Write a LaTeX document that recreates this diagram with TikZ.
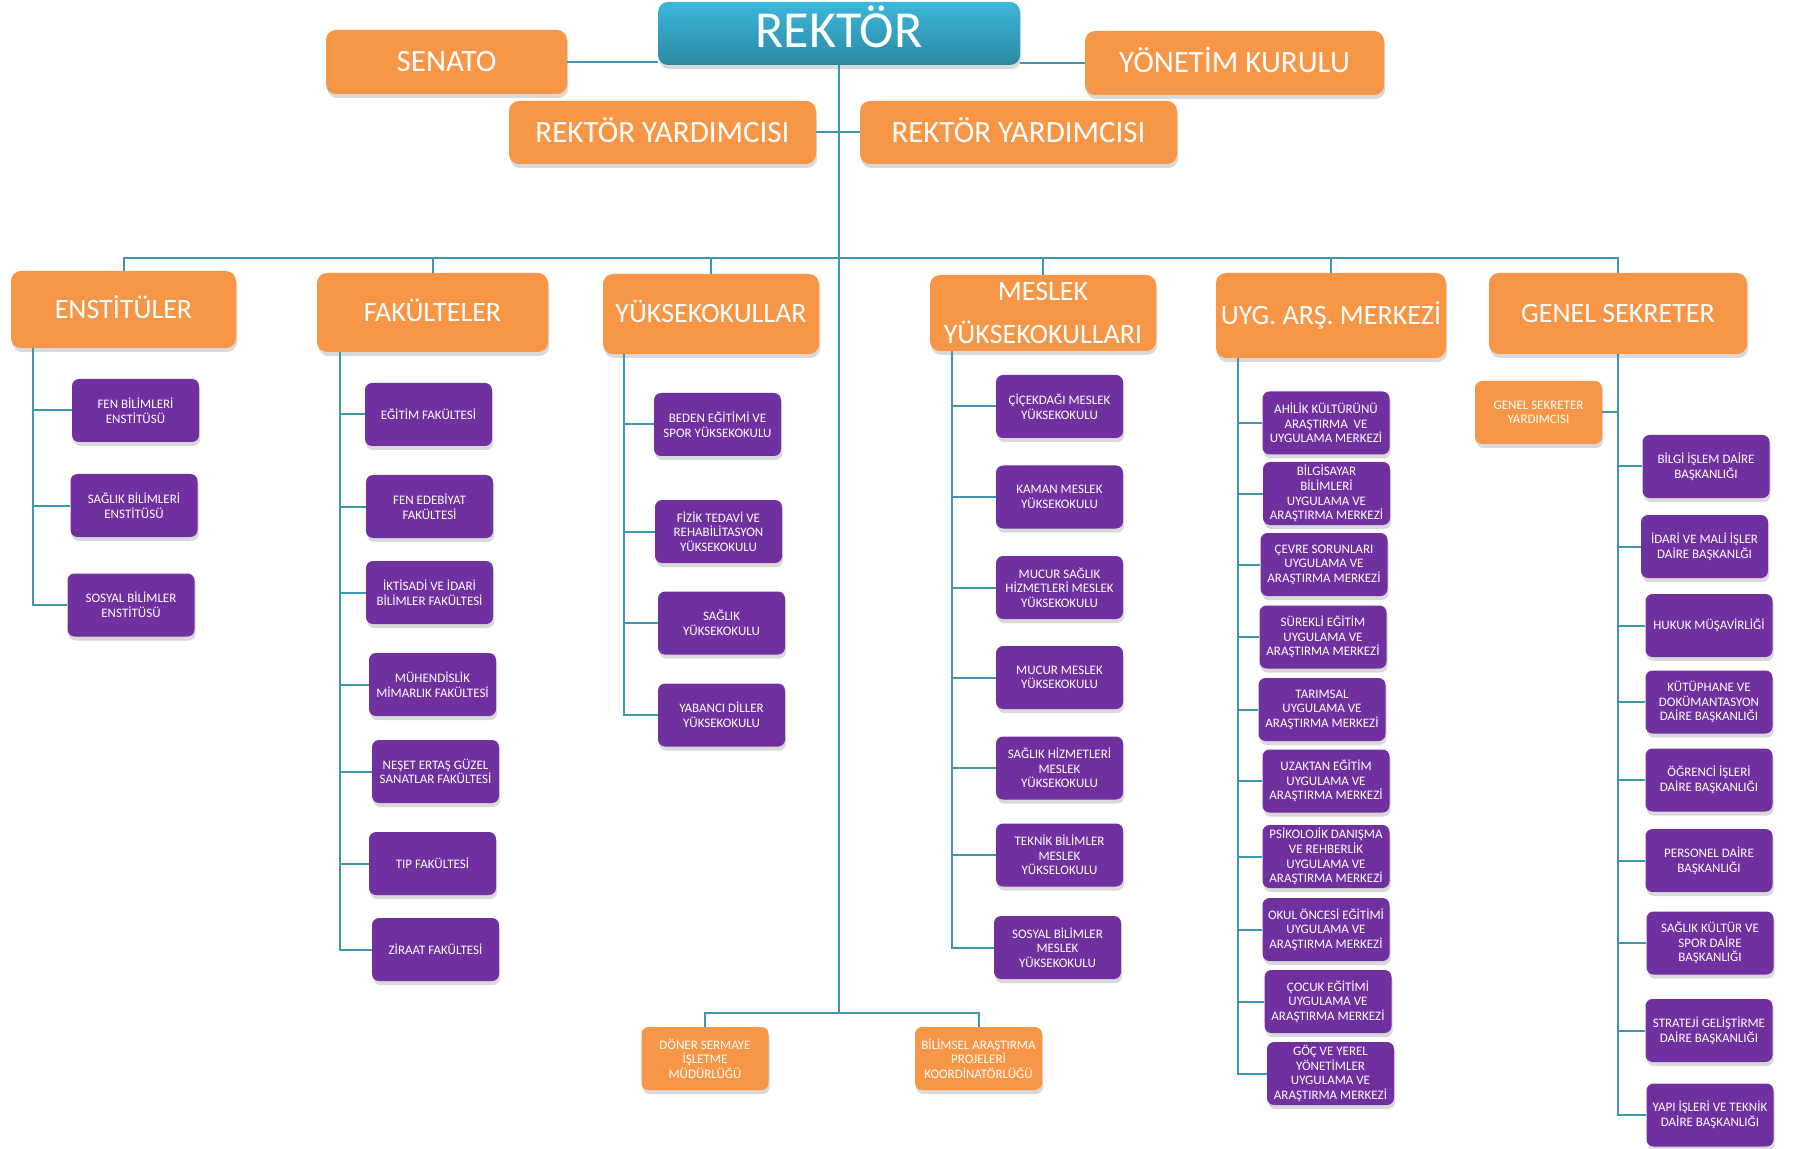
\documentclass[tikz,border=0pt]{standalone}
\usepackage{fontspec}
\setmainfont{Carlito}
\usepackage{tikz}
\usetikzlibrary{shadows}
\definecolor{apricot}{HTML}{F79646}
\definecolor{grape}{HTML}{7030A0}
\definecolor{seablue}{HTML}{3E97AE}
\definecolor{aquatop}{HTML}{3DB7DC}
\definecolor{aquabot}{HTML}{2B88A1}

\begin{document}
\begin{tikzpicture}[x=0.5pt, y=-0.5pt,
      box/.style={rectangle, rounded corners=5pt, align=center, text=white, inner sep=1pt,
        drop shadow={shadow xshift=0.6pt, shadow yshift=-2pt, opacity=0.3}},
      board/.style={box, fill=apricot, font=\fontsize{15.5}{18}\selectfont, text height=10pt, text depth=0pt},
      head/.style={box, fill=apricot, font=\fontsize{14}{21.5}\selectfont},
      oneline/.style={text height=9pt, text depth=0pt},
      unit/.style={box, fill=grape, rounded corners=3.5pt, minimum width=63.5pt, minimum height=31.5pt,
        font=\fontsize{6.5}{7.3}\selectfont},
      office/.style={unit, fill=apricot},
      link/.style={draw=seablue, line width=1pt}
      ]
      \useasboundingbox (0,0) rectangle (1797,1149);
      % top level
      \node[box, top color=aquatop, bottom color=aquabot, minimum width=181pt, minimum height=31.5pt,
        font=\fontsize{26}{30}\selectfont, text height=14.5pt, text depth=0pt] (REK) at (839,33.5) {REKTÖR};
      \node[board, minimum width=120.5pt, minimum height=32pt] (SEN) at (446.5,62) {SENATO};
      \node[board, minimum width=149.5pt, minimum height=32pt] (YK) at (1234.5,63) {YÖNETİM KURULU};
      \node[board, minimum width=153.5pt, minimum height=31.5pt] (RY1) at (662.5,132.5) {REKTÖR YARDIMCISI};
      \node[board, minimum width=158.5pt, minimum height=31.5pt] (RY2) at (1018.5,132.5) {REKTÖR YARDIMCISI};
      % units
      \node[head, oneline, minimum width=112.5pt, minimum height=38.5pt] (ENS) at (123.5,309.5) {ENSTİTÜLER};
      \node[head, oneline, minimum width=115.5pt, minimum height=39.5pt] (FAK) at (432.5,312.5) {FAKÜLTELER};
      \node[head, oneline, minimum width=108pt, minimum height=40pt] (YO) at (711,314) {YÜKSEKOKULLAR};
      \node[head, minimum width=113pt, minimum height=38pt] (MYO) at (1043,313) {MESLEK\\YÜKSEKOKULLARI};
      \node[head, oneline, minimum width=115pt, minimum height=42.5pt] (UAM) at (1331,315.5) {UYG. ARŞ. MERKEZİ};
      \node[head, oneline, minimum width=129pt, minimum height=40.5pt] (GS) at (1618,313.5) {GENEL SEKRETER};
      % enstituler
      \node[unit] (ENS1) at (135.5,410.5) {FEN BİLİMLERİ\\ENSTİTÜSÜ};
      \node[unit] (ENS2) at (134,505.5) {SAĞLIK BİLİMLERİ\\ENSTİTÜSÜ};
      \node[unit] (ENS3) at (131,605) {SOSYAL BİLİMLER\\ENSTİTÜSÜ};
      % fakulteler
      \node[unit] (FAK1) at (428.5,414.5) {EĞİTİM FAKÜLTESİ};
      \node[unit] (FAK2) at (429.5,506.5) {FEN EDEBİYAT\\FAKÜLTESİ};
      \node[unit] (FAK3) at (429.5,592.5) {İKTİSADİ VE İDARİ\\BİLİMLER FAKÜLTESİ};
      \node[unit] (FAK4) at (432.5,684.5) {MÜHENDİSLİK\\MİMARLIK FAKÜLTESİ};
      \node[unit] (FAK5) at (435.5,771.5) {NEŞET ERTAŞ GÜZEL\\SANATLAR FAKÜLTESİ};
      \node[unit] (FAK6) at (432.5,863.5) {TIP FAKÜLTESİ};
      \node[unit] (FAK7) at (435.5,949.5) {ZİRAAT FAKÜLTESİ};
      % yuksekokullar
      \node[unit] (YO1) at (717.5,424.5) {BEDEN EĞİTİMİ VE\\SPOR YÜKSEKOKULU};
      \node[unit] (YO2) at (718.5,531.5) {FİZİK TEDAVİ VE\\REHABİLİTASYON\\YÜKSEKOKULU};
      \node[unit] (YO3) at (721.5,623) {SAĞLIK\\YÜKSEKOKULU};
      \node[unit] (YO4) at (721.5,715) {YABANCI DİLLER\\YÜKSEKOKULU};
      % meslek yuksekokullari
      \node[unit] (MYO1) at (1059.5,406.5) {ÇİÇEKDAĞI MESLEK\\YÜKSEKOKULU};
      \node[unit] (MYO2) at (1059.5,497) {KAMAN MESLEK\\YÜKSEKOKULU};
      \node[unit] (MYO3) at (1059.5,587.5) {MUCUR SAĞLIK\\HİZMETLERİ MESLEK\\YÜKSEKOKULU};
      \node[unit] (MYO4) at (1059.5,677.5) {MUCUR MESLEK\\YÜKSEKOKULU};
      \node[unit] (MYO5) at (1059.5,768) {SAĞLIK HİZMETLERİ\\MESLEK\\YÜKSEKOKULU};
      \node[unit] (MYO6) at (1059.5,855) {TEKNİK BİLİMLER\\MESLEK\\YÜKSELOKULU};
      \node[unit] (MYO7) at (1057.5,947.5) {SOSYAL BİLİMLER\\MESLEK\\YÜKSEKOKULU};
      % merkezler
      \node[unit] (UAM1) at (1326,423) {AHİLİK KÜLTÜRÜNÜ\\ARAŞTIRMA~ VE\\UYGULAMA MERKEZİ};
      \node[unit] (UAM2) at (1326.5,493.5) {BİLGİSAYAR\\BİLİMLERİ\\UYGULAMA VE\\ARAŞTIRMA MERKEZİ};
      \node[unit] (UAM3) at (1324,564.5) {ÇEVRE SORUNLARI\\UYGULAMA VE\\ARAŞTIRMA MERKEZİ};
      \node[unit] (UAM4) at (1323,637) {SÜREKLİ EĞİTİM\\UYGULAMA VE\\ARAŞTIRMA MERKEZİ};
      \node[unit] (UAM5) at (1322,709.5) {TARIMSAL\\UYGULAMA VE\\ARAŞTIRMA MERKEZİ};
      \node[unit] (UAM6) at (1326,781) {UZAKTAN EĞİTİM\\UYGULAMA VE\\ARAŞTIRMA MERKEZİ};
      \node[unit] (UAM7) at (1326,856.5) {PSİKOLOJİK DANIŞMA\\VE REHBERLİK\\UYGULAMA VE\\ARAŞTIRMA MERKEZİ};
      \node[unit] (UAM8) at (1326,929.5) {OKUL ÖNCESİ EĞİTİMİ\\UYGULAMA VE\\ARAŞTIRMA MERKEZİ};
      \node[unit] (UAM9) at (1328,1001.5) {ÇOCUK EĞİTİMİ\\UYGULAMA VE\\ARAŞTIRMA MERKEZİ};
      \node[unit] (UAM10) at (1330.5,1073.5) {GÖÇ VE YEREL\\YÖNETİMLER\\UYGULAMA VE\\ARAŞTIRMA MERKEZİ};
      % genel sekreterlik
      \node[office] (GSY) at (1538.5,412.5) {GENEL SEKRETER\\YARDIMCISI};
      \node[unit] (GS1) at (1706,466.5) {BİLGİ İŞLEM DAİRE\\BAŞKANLIĞI};
      \node[unit] (GS2) at (1704.5,546.5) {İDARİ VE MALİ İŞLER\\DAİRE BAŞKANLĞI};
      \node[unit] (GS3) at (1709,625.5) {HUKUK MÜŞAVİRLİĞİ};
      \node[unit] (GS4) at (1709,702) {KÜTÜPHANE VE\\DOKÜMANTASYON\\DAİRE BAŞKANLIĞI};
      \node[unit] (GS5) at (1709,780) {ÖĞRENCİ İŞLERİ\\DAİRE BAŞKANLIĞI};
      \node[unit] (GS6) at (1709,860.5) {PERSONEL DAİRE\\BAŞKANLIĞI};
      \node[unit] (GS7) at (1710,943) {SAĞLIK KÜLTÜR VE\\SPOR DAİRE\\BAŞKANLIĞI};
      \node[unit] (GS8) at (1709,1030.5) {STRATEJİ GELİŞTİRME\\DAİRE BAŞKANLIĞI};
      \node[unit] (GS9) at (1710,1115) {YAPI İŞLERİ VE TEKNİK\\DAİRE BAŞKANLIĞI};
      % bottom
      \node[office] (DSI) at (705,1058.5) {DÖNER SERMAYE\\İŞLETME\\MÜDÜRLÜĞÜ};
      \node[office] (BAP) at (978.5,1058.5) {BİLİMSEL ARAŞTIRMA\\PROJELERİ\\KOORDİNATÖRLÜĞÜ};
      % connectors
      \coordinate (BUS) at (839,258);
      \coordinate (LOW) at (839,1013);
      \draw[link] (REK.south) -- (LOW);
      \draw[link] (SEN.east) -- (SEN.east -| REK.west);
      \draw[link] (YK.west) -- (YK.west -| REK.east);
      \draw[link] (RY1.east) -- (RY2.west);
      \foreach \h in {ENS,FAK,YO,MYO,UAM,GS}
        \draw[link] (\h.north) |- (BUS);
      \draw[link] (DSI.north) |- (LOW);
      \draw[link] (BAP.north) |- (LOW);
      \foreach \c in {ENS1,ENS2,ENS3}
        \draw[link] ([xshift=11pt]ENS.south west) |- (\c.west);
      \foreach \c in {FAK1,FAK2,FAK3,FAK4,FAK5,FAK6,FAK7}
        \draw[link] ([xshift=11.5pt]FAK.south west) |- (\c.west);
      \foreach \c in {YO1,YO2,YO3,YO4}
        \draw[link] ([xshift=10.5pt]YO.south west) |- (\c.west);
      \foreach \c in {MYO1,MYO2,MYO3,MYO4,MYO5,MYO6,MYO7}
        \draw[link] ([xshift=11pt]MYO.south west) |- (\c.west);
      \foreach \c in {UAM1,UAM2,UAM3,UAM4,UAM5,UAM6,UAM7,UAM8,UAM9,UAM10}
        \draw[link] ([xshift=11pt]UAM.south west) |- (\c.west);
      \foreach \c in {GS1,GS2,GS3,GS4,GS5,GS6,GS7,GS8,GS9}
        \draw[link] (GS.south) |- (\c.west);
      \draw[link] (GSY.east) -- (GSY.east -| GS.south);
    \end{tikzpicture}
\end{document}
